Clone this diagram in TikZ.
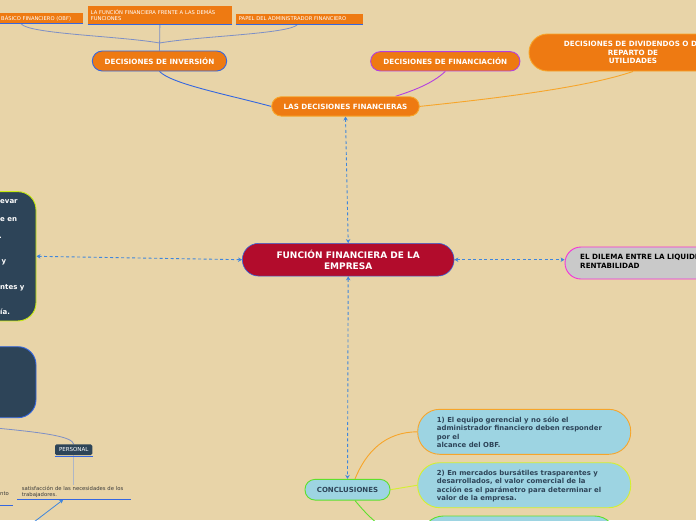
\documentclass[tikz,border=0pt]{standalone}
\usepackage{fontspec}
\setmainfont{DejaVu Sans}
\usetikzlibrary{arrows.meta,backgrounds}
\definecolor{bg}{HTML}{E8D4A8}
\definecolor{org}{HTML}{EE7A12}
\definecolor{orgL}{HTML}{F7A52A}
\definecolor{blueB}{HTML}{3567E0}
\definecolor{purp}{HTML}{B43FE0}
\definecolor{crim}{HTML}{B20C2C}
\definecolor{slate}{HTML}{2D4458}
\definecolor{ygreen}{HTML}{C8EC10}
\definecolor{magB}{HTML}{F532D8}
\definecolor{greyF}{HTML}{C9C9C9}
\definecolor{lblue}{HTML}{9DD4E2}
\definecolor{gB}{HTML}{5EE02C}
\definecolor{yB}{HTML}{D4F030}
\definecolor{topln}{HTML}{7D8FC6}
\definecolor{dotc}{HTML}{3F86DC}
\definecolor{greyln}{HTML}{AEB6C6}
\definecolor{txtd}{HTML}{3A3A3A}
\begin{document}
\begin{tikzpicture}[x=1pt,y=-1pt,
 pill/.style={draw, line width=0.9pt, text=white, align=center, inner sep=0pt, font=\fontsize{7.2}{8.5}\selectfont\bfseries},
 topbox/.style={fill=org, text=white, align=left, inner ysep=1pt, inner xsep=2pt, anchor=north west, font=\fontsize{5.2}{6.5}\selectfont},
 uline/.style={draw=blueB, line width=1.5pt},
 dots/.style={draw=dotc, line width=0.9pt, dash pattern=on 3pt off 2.5pt, {Stealth[length=4pt,width=4.5pt]}-{Stealth[length=4pt,width=4.5pt]}},
 concl/.style={fill=lblue, line width=0.9pt, rounded corners=22pt, minimum width=213pt, minimum height=45pt},
 concltxt/.style={anchor=west, align=left, text=slate, inner sep=0pt, font=\fontsize{6.9}{8.5}\selectfont\bfseries},
 wtxt/.style={text=white, anchor=base west, inner sep=0pt, font=\fontsize{7}{8}\selectfont\bfseries},
 darkbox/.style={fill=slate, line width=0.9pt, rounded corners=18pt, minimum width=140pt},
]
\useasboundingbox (0,0) rectangle (696,520);
\clip (0,0) rectangle (696,520);

% top boxes
\node[topbox, text width=80pt, minimum height=10.6pt] (b1) at (-1,12.7) {BÁSICO FINANCIERO (OBF)};
\node[topbox, text width=138pt, inner xsep=3pt, minimum height=18pt] (b2) at (87.7,6) {LA FUNCIÓN FINANCIERA FRENTE A LAS DEMÁS\\FUNCIONES};
\node[topbox, text width=121pt, inner xsep=3pt, minimum height=10.7pt] (b3) at (235.7,13.3) {PAPEL DEL ADMINISTRADOR FINANCIERO};
\draw[uline] (b1.south west) -- (b1.south east);
\draw[uline] (b2.south west) -- (b2.south east);
\draw[uline] (b3.south west) -- (b3.south east);

% decision nodes
\node[pill, fill=org, draw=blueB, minimum width=134.4pt, minimum height=20pt, rounded corners=10pt] (inv) at (159.5,61) {DECISIONES DE INVERSIÓN};
\node[pill, fill=org, draw=purp, minimum width=149.3pt, minimum height=19.3pt, rounded corners=9.6pt] (fin) at (445.3,61.3) {DECISIONES DE FINANCIACIÓN};
\node[pill, fill=org, draw=orgL, minimum width=208pt, minimum height=37pt, rounded corners=18.5pt] (div) at (633,52.5) {DECISIONES DE DIVIDENDOS O DE\\REPARTO DE\\UTILIDADES};
\node[pill, fill=org, draw=orgL, minimum width=147.6pt, minimum height=19.3pt, rounded corners=9.6pt] (lasd) at (345.5,106.4) {LAS DECISIONES FINANCIERAS};

% central node
\node[pill, fill=crim, draw=blueB, line width=0.6pt, minimum width=211.7pt, minimum height=32.7pt, rounded corners=16.3pt, font=\fontsize{9}{10.7}\selectfont\bfseries] (func) at (348.2,259.7) {FUNCIÓN FINANCIERA DE LA\\EMPRESA};

% left boxes
\node[darkbox, draw=ygreen, minimum height=129.3pt] (lb1) at (-34,256.3) {};
\node[wtxt] (lt1) at (0,203.3) {evar};
\node[wtxt] (lt2) at (0,221) {e en};
\node[wtxt] (lt3) at (-1,238.3) {.};
\node[wtxt] (lt4) at (1.5,263.5) {y};
\node[wtxt] (lt5) at (0,289.3) {ntes y};
\node[wtxt] (lt6) at (0,314.3) {ía.};
\node[darkbox, draw=blueB, minimum height=71pt] (lb2) at (-34,382.2) {};

% right box
\node[draw=magB, fill=greyF, line width=0.9pt, rounded corners=16pt, minimum width=200pt, minimum height=32pt] (dil) at (665,263) {};
\node[anchor=west, align=left, inner sep=0pt, font=\fontsize{7.2}{9}\selectfont\bfseries] (dilt) at (580,261.2) {EL DILEMA ENTRE LA LIQUIDEZ Y LA\\RENTABILIDAD};

% conclusions
\node[fill=lblue, draw=gB, line width=0.9pt, rounded corners=10pt, minimum width=85pt, minimum height=20.7pt, text=slate, inner sep=0pt, font=\fontsize{7}{8}\selectfont\bfseries] (conc) at (347.5,489.7) {CONCLUSIONES};
\node[concl, draw=orgL] (c1) at (524.2,431.8) {};
\node[concltxt] (c1t) at (436.7,432.2) {1) El equipo gerencial y no sólo el\\administrador ﬁnanciero deben responder\\por el\\alcance del OBF.};
\node[concl, draw=yB] (c2) at (524.2,485.2) {};
\node[concltxt] (c2t) at (436.7,485.8) {2) En mercados bursátiles trasparentes y\\desarrollados, el valor comercial de la\\acción es el parámetro para determinar el\\valor de la empresa.};
\node[concl, draw=gB, minimum width=195pt, minimum height=48pt] (c3) at (519,540) {};

% personal
\node[fill=slate, rounded corners=1.5pt, minimum width=37.3pt, minimum height=10.7pt, inner sep=0pt, text=white, font=\fontsize{5.5}{6}\selectfont] (pers) at (73.7,449.7) {PERSONAL};
\draw[uline] ([yshift=-1.2pt]pers.south west) -- ([yshift=-1.2pt]pers.south east);
\node[anchor=south west, align=left, text width=104pt, inner xsep=4.4pt, inner ysep=1.5pt, text=txtd, font=\fontsize{5.3}{6.3}\selectfont] (sat) at (17.3,499.6) {satisfacción de las necesidades de los\\trabajadores.};
\draw[uline] (sat.south west) -- (sat.south east);
\node[anchor=base west, inner sep=0pt, text=txtd, font=\fontsize{5.3}{6.3}\selectfont] (nto) at (0,495) {nto};
\coordinate (ntoL) at (-1,505.7);
\coordinate (ntoR) at (13.3,505.7);
\draw[uline] (ntoL) -- (ntoR);
\coordinate (pl) at (-10,427.5);
\coordinate (arS) at (30,525);
\coordinate (j) at (159.5,43);

\begin{pgfonlayer}{background}
\fill[bg] (0,0) rectangle (696,520);
% top connectors
\draw[topln, line width=0.8pt] ([xshift=22pt]b1.south west) .. controls (28,34) and (120,36) .. (j);
\draw[topln, line width=0.8pt] ([xshift=62pt]b3.south west) .. controls (290,34) and (200,36) .. (j);
\draw[topln, line width=0.8pt] (b2.south) -- (inv.north);
% decisions to lasd
\draw[blueB, line width=0.9pt] (inv.south) .. controls (172,84) and (225,94) .. (lasd.west);
\draw[purp, line width=0.9pt] (fin.south) .. controls (432,84) and (412,91) .. ([xshift=50pt]lasd.north);
\draw[orgL, line width=0.9pt] (div.south) .. controls (585,88) and (490,99) .. (lasd.east);
% dotted arrows
\draw[dots] (lasd.south) -- (func.north);
\draw[dots] (func.west) -- (lb1.east);
\draw[dots] (func.east) -- (dil.west |- func.east);
\draw[dots] (func.south) -- (conc.north);
% conclusions connectors
\draw[orgL, line width=0.9pt] ([xshift=7.5pt]conc.north) .. controls (366,452) and (385,432) .. (c1.west);
\draw[yB, line width=0.9pt] (conc.east) -- (c2.west);
\draw[gB, line width=0.9pt] ([xshift=7.5pt]conc.south) .. controls (375,525) and (395,540) .. (c3.west);
% personal connectors
\draw[topln, line width=0.8pt] (pers.north) .. controls (72,437) and (50,433) .. (pl);
\draw[greyln, line width=1.2pt] (pers.south) -- (pers.south |- sat.north);
\draw[dotc, line width=0.8pt, -{Stealth[length=4pt,width=4pt]}] (arS) -- ([xshift=46pt]sat.south west);
\end{pgfonlayer}
\end{tikzpicture}
\end{document}
